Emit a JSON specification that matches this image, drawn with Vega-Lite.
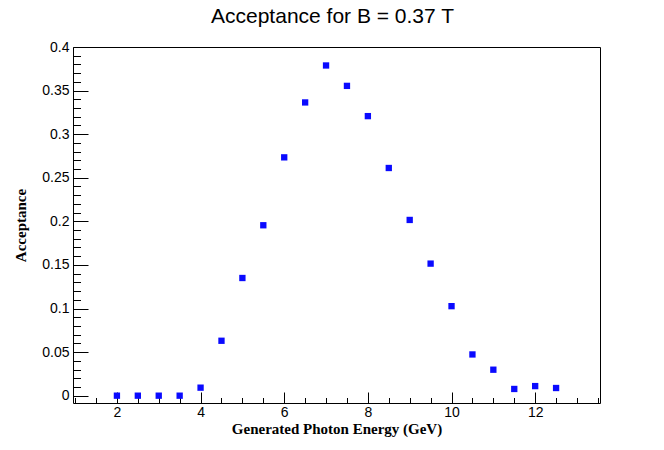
{
  "$schema": "https://vega.github.io/schema/vega-lite/v6.json",
  "autosize": {"type": "none"},
  "padding": {"left": 73, "top": 47, "right": 64, "bottom": 47},
  "width": 527,
  "height": 356,
  "background": "white",
  "title": {
    "text": "Acceptance for B = 0.37 T",
    "font": "Liberation Sans",
    "fontSize": 21,
    "fontWeight": "normal",
    "color": "black",
    "anchor": "middle",
    "dx": -4,
    "offset": 13
  },
  "config": {
    "view": {"stroke": "black", "strokeWidth": 1},
    "axis": {
      "domain": false,
      "grid": false,
      "tickColor": "black",
      "tickWidth": 1,
      "labelColor": "black",
      "labelFont": "Liberation Sans",
      "labelFontSize": 14,
      "titleColor": "black",
      "titleFont": "Liberation Serif",
      "titleFontWeight": "bold",
      "titleFontSize": 15
    }
  },
  "data": {
    "values": [
      {"energy": 2.0, "acceptance": 0.0},
      {"energy": 2.5, "acceptance": 0.0},
      {"energy": 3.0, "acceptance": 0.0},
      {"energy": 3.5, "acceptance": 0.0},
      {"energy": 4.0, "acceptance": 0.0092},
      {"energy": 4.5, "acceptance": 0.063},
      {"energy": 5.0, "acceptance": 0.135},
      {"energy": 5.5, "acceptance": 0.1955},
      {"energy": 6.0, "acceptance": 0.2734},
      {"energy": 6.5, "acceptance": 0.3364},
      {"energy": 7.0, "acceptance": 0.3788},
      {"energy": 7.5, "acceptance": 0.3554},
      {"energy": 8.0, "acceptance": 0.3207},
      {"energy": 8.5, "acceptance": 0.2612},
      {"energy": 9.0, "acceptance": 0.2016},
      {"energy": 9.5, "acceptance": 0.1515},
      {"energy": 10.0, "acceptance": 0.1027},
      {"energy": 10.5, "acceptance": 0.0473},
      {"energy": 11.0, "acceptance": 0.0298},
      {"energy": 11.5, "acceptance": 0.0077},
      {"energy": 12.0, "acceptance": 0.011},
      {"energy": 12.5, "acceptance": 0.0088}
    ]
  },
  "layer": [
    {
      "mark": {"type": "square", "size": 40, "color": "#0a0aff", "opacity": 1, "filled": true},
      "encoding": {
        "x": {
          "field": "energy", "type": "quantitative",
          "scale": {"domain": [0.95, 13.55], "nice": false, "zero": false},
          "axis": {
            "orient": "bottom",
            "values": [2, 4, 6, 8, 10, 12],
            "tickSize": -11,
            "labelPadding": 13,
            "title": "Generated Photon Energy (GeV)",
            "titlePadding": 2
          }
        },
        "y": {
          "field": "acceptance", "type": "quantitative",
          "scale": {"domain": [-0.0084, 0.4], "nice": false, "zero": false},
          "axis": {
            "orient": "left",
            "values": [0, 0.05, 0.1, 0.15, 0.2, 0.25, 0.3, 0.35, 0.4],
            "format": "~g",
            "tickSize": -15,
            "labelPadding": 19,
            "title": "Acceptance",
            "titlePadding": 13
          }
        }
      }
    },
    {
      "mark": {"type": "square", "size": 40, "opacity": 0},
      "encoding": {
        "x": {
          "field": "energy", "type": "quantitative",
          "axis": {
            "orient": "bottom",
            "values": [1, 1.5, 2.5, 3, 3.5, 4.5, 5, 5.5, 6.5, 7, 7.5, 8.5, 9, 9.5, 10.5, 11, 11.5, 12.5, 13, 13.5],
            "tickSize": -5.5,
            "labels": false,
            "title": null
          }
        },
        "y": {
          "field": "acceptance", "type": "quantitative",
          "axis": {
            "orient": "left",
            "values": [0.01, 0.02, 0.03, 0.04, 0.06, 0.07, 0.08, 0.09, 0.11, 0.12, 0.13, 0.14, 0.16, 0.17, 0.18, 0.19, 0.21, 0.22, 0.23, 0.24, 0.26, 0.27, 0.28, 0.29, 0.31, 0.32, 0.33, 0.34, 0.36, 0.37, 0.38, 0.39],
            "tickSize": -7.5,
            "labels": false,
            "title": null
          }
        }
      }
    }
  ],
  "resolve": {"axis": {"x": "independent", "y": "independent"}}
}
